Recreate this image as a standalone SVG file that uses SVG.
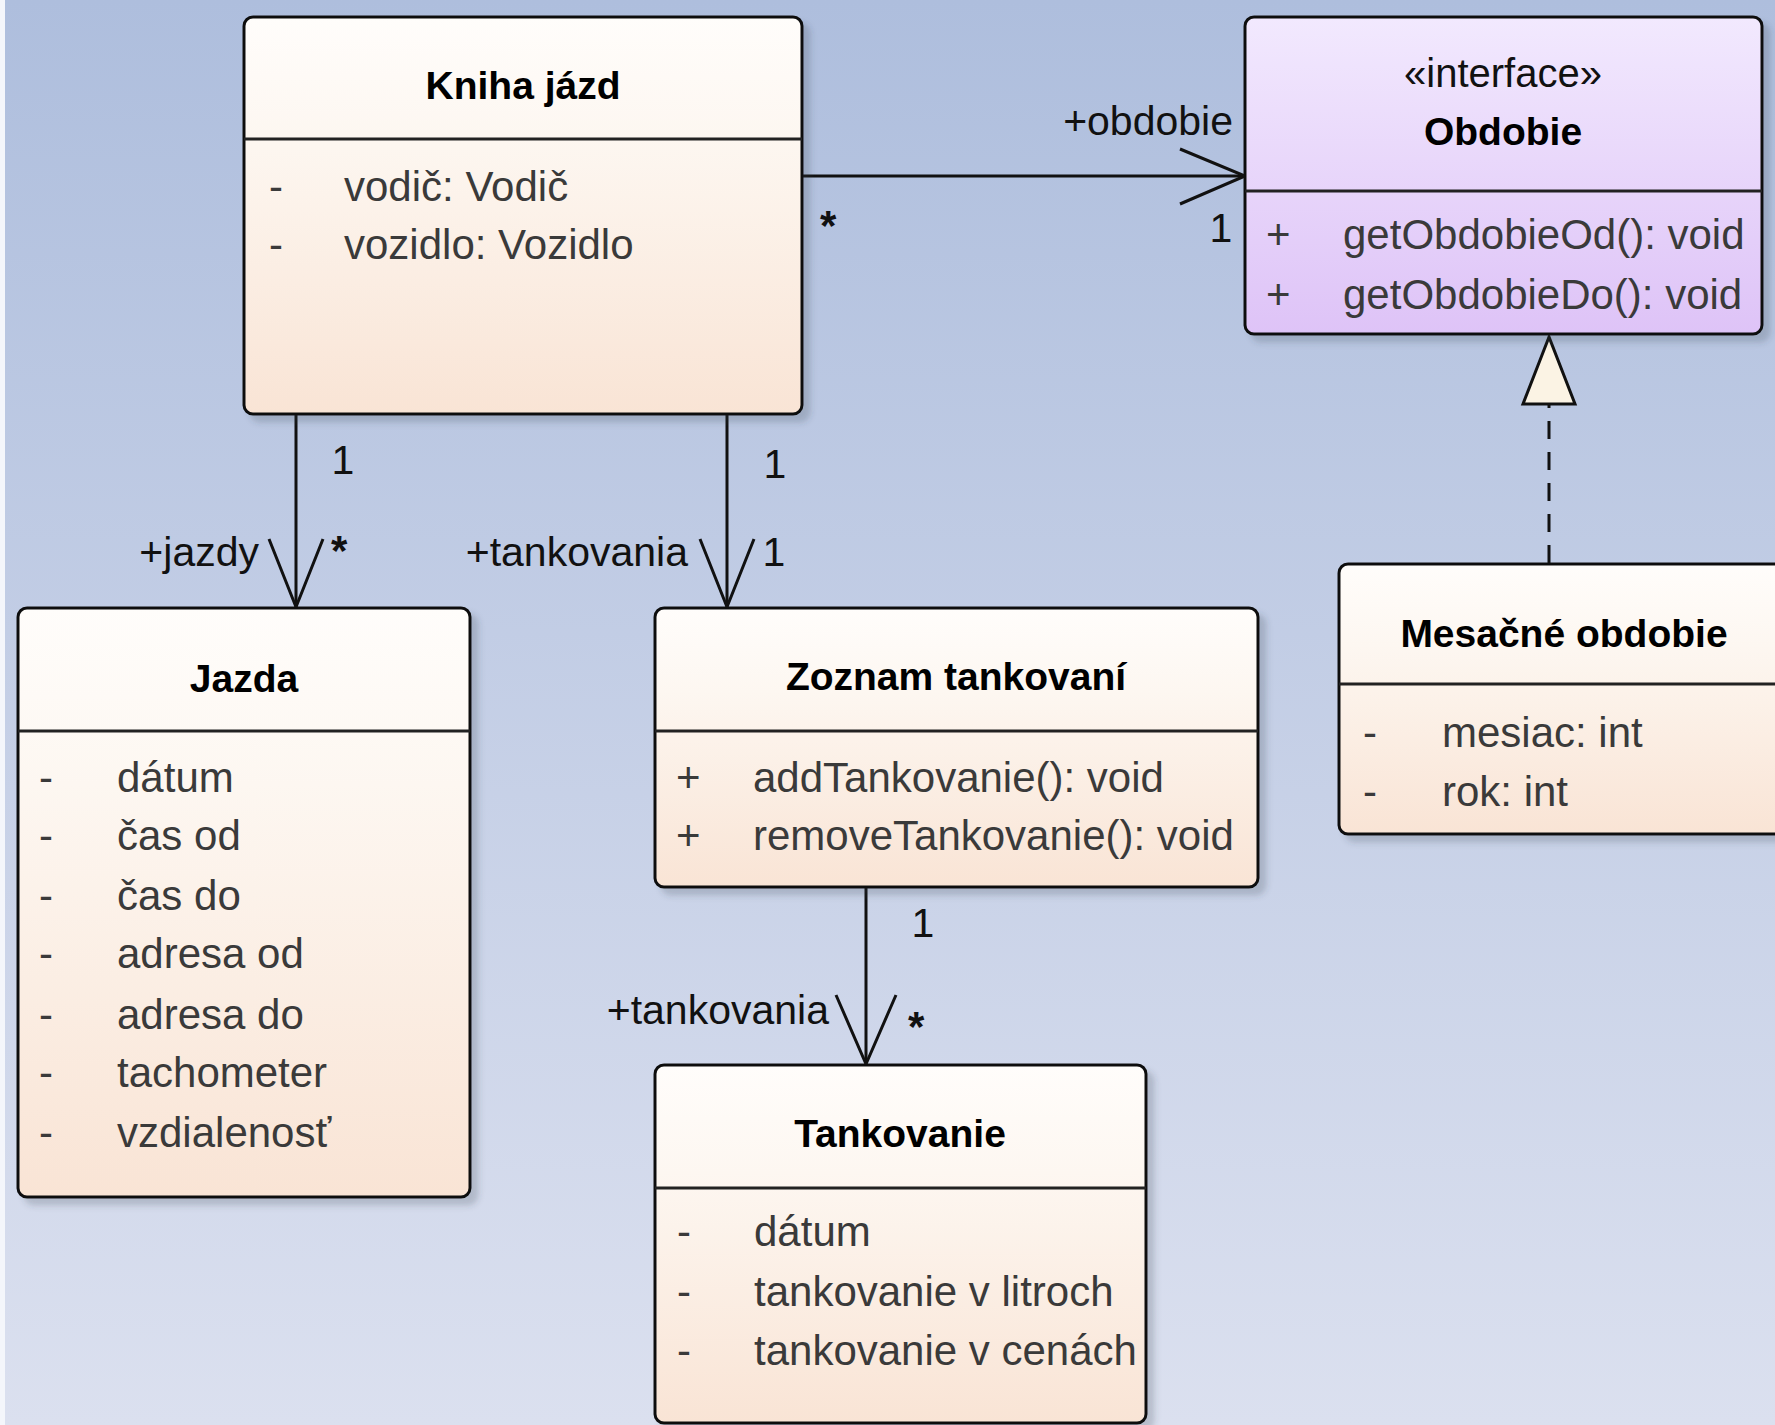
<svg xmlns="http://www.w3.org/2000/svg" width="1775" height="1425" viewBox="0 0 1775 1425">
<defs>
  <linearGradient id="bg" x1="0" y1="0" x2="0" y2="1">
    <stop offset="0" stop-color="#AEBEDD"/>
    <stop offset="1" stop-color="#DBE0EF"/>
  </linearGradient>
  <linearGradient id="cls" x1="0" y1="0" x2="0" y2="1">
    <stop offset="0" stop-color="#FFFDFB"/>
    <stop offset="0.3" stop-color="#FDF7F1"/>
    <stop offset="1" stop-color="#F9E4D5"/>
  </linearGradient>
  <linearGradient id="ifc" x1="0" y1="0" x2="0" y2="1">
    <stop offset="0" stop-color="#F2E9FE"/>
    <stop offset="1" stop-color="#DEC3F7"/>
  </linearGradient>
  <filter id="sh" x="-5%" y="-5%" width="115%" height="115%">
    <feDropShadow dx="7" dy="7" stdDeviation="3" flood-color="#3A4050" flood-opacity="0.22"/>
  </filter>
  <style>
    .box { stroke:#111; stroke-width:3; filter:url(#sh); }
    .cls { fill:url(#cls); }
    .ifc { fill:url(#ifc); }
    .div { stroke:#222; stroke-width:3; }
    .title { font-family:"Liberation Sans", Arial, sans-serif; font-size:39px; font-weight:bold; fill:#000; text-anchor:middle; }
    .stereo { font-family:"Liberation Sans", Arial, sans-serif; font-size:40px; fill:#111; text-anchor:middle; }
    .attr { font-family:"Liberation Sans", Arial, sans-serif; font-size:42px; fill:#3A3A3A; }
    .lbl { font-family:"Liberation Sans", Arial, sans-serif; font-size:41px; fill:#111; }
    .star { font-family:"Liberation Sans", Arial, sans-serif; font-size:42px; font-weight:bold; fill:#111; }
    .end { text-anchor:end; }
    .mid { text-anchor:middle; }
    .ln { stroke:#111; stroke-width:3; fill:none; }
    .dash { stroke:#111; stroke-width:3; fill:none; stroke-dasharray:18 13; }
    .tri { stroke:#111; stroke-width:3; fill:#FBF3E4; stroke-linejoin:miter; }
  </style>
</defs>

<rect x="0" y="0" width="1775" height="1425" fill="url(#bg)"/>
<rect x="0" y="0" width="5" height="1425" fill="#F4F6FB"/>

<g id="connectors">
  <!-- Kniha jázd -> Obdobie -->
  <line class="ln" x1="802" y1="176" x2="1245" y2="176"/>
  <polyline class="ln" points="1180,149 1245,176 1180,204"/>
  <text class="lbl end" x="1233" y="135">+obdobie</text>
  <text class="lbl mid" x="1221" y="242">1</text>
  <text class="star" x="820" y="240">*</text>

  <!-- Kniha jázd -> Jazda -->
  <line class="ln" x1="296" y1="414" x2="296" y2="607"/>
  <polyline class="ln" points="269,539 296,607 323,539"/>
  <text class="lbl mid" x="343" y="474">1</text>
  <text class="lbl end" x="259" y="566">+jazdy</text>
  <text class="star" x="331" y="565">*</text>

  <!-- Kniha jázd -> Zoznam tankovaní -->
  <line class="ln" x1="727" y1="414" x2="727" y2="607"/>
  <polyline class="ln" points="700,539 727,607 754,539"/>
  <text class="lbl mid" x="775" y="478">1</text>
  <text class="lbl end" x="688" y="566">+tankovania</text>
  <text class="lbl mid" x="774" y="566">1</text>

  <!-- Zoznam tankovaní -> Tankovanie -->
  <line class="ln" x1="866" y1="887" x2="866" y2="1064"/>
  <polyline class="ln" points="836,995 866,1064 896,995"/>
  <text class="lbl mid" x="923" y="937">1</text>
  <text class="lbl end" x="829" y="1024">+tankovania</text>
  <text class="star" x="908" y="1041">*</text>

  <!-- Mesačné obdobie realizes Obdobie -->
  <line class="dash" x1="1549" y1="563" x2="1549" y2="404"/>
  <polygon class="tri" points="1549,337 1523,404 1575,404"/>
</g>

<g id="kniha-jazd">
  <rect class="box cls" x="244" y="17" width="558" height="397" rx="9"/>
  <line class="div" x1="244" y1="139" x2="802" y2="139"/>
  <text class="title" x="523" y="99">Kniha jázd</text>
  <text class="attr" x="269" y="201">-</text>
  <text class="attr" x="344" y="201">vodič: Vodič</text>
  <text class="attr" x="269" y="259">-</text>
  <text class="attr" x="344" y="259">vozidlo: Vozidlo</text>
</g>

<g id="obdobie">
  <rect class="box ifc" x="1245" y="17" width="517" height="317" rx="9"/>
  <line class="div" x1="1245" y1="191" x2="1762" y2="191"/>
  <text class="stereo" x="1503" y="87">«interface»</text>
  <text class="title" x="1503" y="145">Obdobie</text>
  <text class="attr" x="1266" y="249">+</text>
  <text class="attr" x="1343" y="249">getObdobieOd(): void</text>
  <text class="attr" x="1266" y="309">+</text>
  <text class="attr" x="1343" y="309">getObdobieDo(): void</text>
</g>

<g id="jazda">
  <rect class="box cls" x="18" y="608" width="452" height="589" rx="9"/>
  <line class="div" x1="18" y1="731" x2="470" y2="731"/>
  <text class="title" x="244" y="692">Jazda</text>
  <text class="attr" x="39" y="792">-</text><text class="attr" x="117" y="792">dátum</text>
  <text class="attr" x="39" y="850">-</text><text class="attr" x="117" y="850">čas od</text>
  <text class="attr" x="39" y="910">-</text><text class="attr" x="117" y="910">čas do</text>
  <text class="attr" x="39" y="968">-</text><text class="attr" x="117" y="968">adresa od</text>
  <text class="attr" x="39" y="1029">-</text><text class="attr" x="117" y="1029">adresa do</text>
  <text class="attr" x="39" y="1087">-</text><text class="attr" x="117" y="1087">tachometer</text>
  <text class="attr" x="39" y="1147">-</text><text class="attr" x="117" y="1147">vzdialenosť</text>
</g>

<g id="zoznam-tankovani">
  <rect class="box cls" x="655" y="608" width="603" height="279" rx="9"/>
  <line class="div" x1="655" y1="731" x2="1258" y2="731"/>
  <text class="title" x="956" y="690">Zoznam tankovaní</text>
  <text class="attr" x="676" y="792">+</text><text class="attr" x="753" y="792">addTankovanie(): void</text>
  <text class="attr" x="676" y="850">+</text><text class="attr" x="753" y="850">removeTankovanie(): void</text>
</g>

<g id="tankovanie">
  <rect class="box cls" x="655" y="1065" width="491" height="358" rx="9"/>
  <line class="div" x1="655" y1="1188" x2="1146" y2="1188"/>
  <text class="title" x="900" y="1147">Tankovanie</text>
  <text class="attr" x="677" y="1246">-</text><text class="attr" x="754" y="1246">dátum</text>
  <text class="attr" x="677" y="1306">-</text><text class="attr" x="754" y="1306">tankovanie v litroch</text>
  <text class="attr" x="677" y="1365">-</text><text class="attr" x="754" y="1365">tankovanie v cenách</text>
</g>

<g id="mesacne-obdobie">
  <rect class="box cls" x="1339" y="564" width="452" height="270" rx="9"/>
  <line class="div" x1="1339" y1="684" x2="1791" y2="684"/>
  <text class="title" x="1564" y="647">Mesačné obdobie</text>
  <text class="attr" x="1363" y="747">-</text><text class="attr" x="1442" y="747">mesiac: int</text>
  <text class="attr" x="1363" y="806">-</text><text class="attr" x="1442" y="806">rok: int</text>
</g>
</svg>
